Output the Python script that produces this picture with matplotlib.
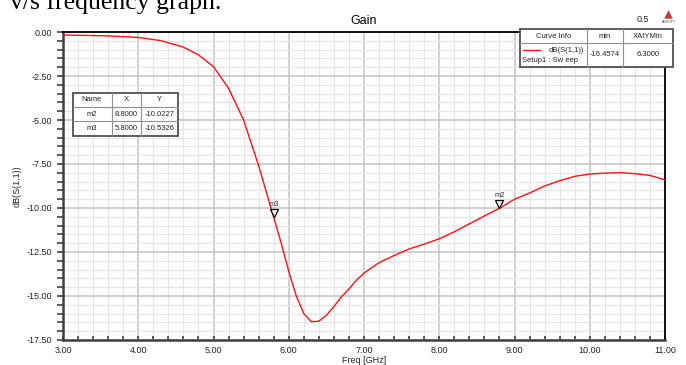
import matplotlib
matplotlib.use("Agg")
import matplotlib.pyplot as plt
from matplotlib.lines import Line2D
from matplotlib.patches import Rectangle
from matplotlib.ticker import MultipleLocator, FormatStrFormatter
import matplotlib.transforms as mtransforms

plt.rcParams["font.family"] = ["Liberation Sans", "DejaVu Sans"]

# S11 sweep
FREQ = [3.0, 3.6, 4.0, 4.3, 4.6, 4.8, 5.0, 5.2, 5.4, 5.6, 5.8, 5.9, 6.0, 6.1,
        6.2, 6.3, 6.4, 6.5, 6.6, 6.7, 6.8, 6.9, 7.0, 7.2, 7.4, 7.6, 7.8, 8.0,
        8.2, 8.4, 8.6, 8.8, 9.0, 9.2, 9.4, 9.6, 9.8, 10.0, 10.2, 10.4, 10.6,
        10.8, 11.0]
S11_DB = [-0.17, -0.22, -0.31, -0.49, -0.86, -1.30, -1.97, -3.20, -5.00, -7.60,
          -10.53, -12.00, -13.60, -15.00, -16.00, -16.46, -16.43, -16.10,
          -15.60, -15.05, -14.60, -14.10, -13.70, -13.10, -12.70, -12.33,
          -12.05, -11.75, -11.35, -10.90, -10.45, -10.02, -9.50, -9.15, -8.75,
          -8.45, -8.20, -8.07, -8.02, -7.99, -8.05, -8.15, -8.40]

MARKER_NAMES = ["m2", "m3"]
MARKER_X = [8.8, 5.8]
MARKER_Y = [-10.0227, -10.5326]

CURVE_NAME = "dB(S(1,1))"
CURVE_SETUP = "Setup1 : Sw eep"
CURVE_MIN = -16.4574
CURVE_XATYMIN = 6.3

W, H = 686, 365
fig = plt.figure(figsize=(W / 100, H / 100), dpi=100)


def fx(x):
    return x / W


def fy(y):
    return 1 - y / H


ax = fig.add_axes([fx(63), fy(340), fx(665) - fx(63), fy(32) - fy(340)])
ax.plot(FREQ, S11_DB, color="#ff1010", lw=1.0, zorder=3)

ax.set_xlim(3, 11)
ax.set_ylim(-17.5, 0)
ax.xaxis.set_major_locator(MultipleLocator(1))
ax.xaxis.set_minor_locator(MultipleLocator(0.2))
ax.yaxis.set_major_locator(MultipleLocator(2.5))
ax.yaxis.set_minor_locator(MultipleLocator(0.5))
ax.xaxis.set_major_formatter(FormatStrFormatter("%.2f"))
ax.yaxis.set_major_formatter(FormatStrFormatter("%.2f"))
ax.grid(True, which="major", color="#c4c4c4", lw=1.1, zorder=1)
ax.grid(True, which="minor", color="#e6e6e6", lw=0.9, zorder=0)
ax.set_axisbelow(True)

ax.tick_params(axis="y", which="both", direction="out", length=4, width=1.2,
               color="#404040", labelsize=6.5, pad=3.5, labelcolor="#222222")
ax.tick_params(axis="x", which="both", direction="in", length=3, width=1.2,
               color="#404040", labelsize=6.5, pad=4, labelcolor="#222222")
for side in ("left", "bottom"):
    ax.spines[side].set_color("#404040")
    ax.spines[side].set_linewidth(1.8)
for side in ("top", "right"):
    ax.spines[side].set_color("black")
    ax.spines[side].set_linewidth(1.3)

ax.set_xlabel("Freq [GHz]", fontsize=6.5, labelpad=1, color="#222222")
ax.set_ylabel("dB(S(1,1))", fontsize=6.5, labelpad=4, color="#222222")
ax.set_title("Gain", fontsize=9, pad=6)

# markers: open triangles sitting on the curve
up = mtransforms.offset_copy(ax.transData, fig=fig, x=0, y=4, units="dots")
for name, mx, my in zip(MARKER_NAMES, MARKER_X, MARKER_Y):
    ax.plot([mx], [my], marker="v", ms=6, mfc="white", mec="black", mew=0.9,
            transform=up, zorder=4)
    ax.annotate(name, (mx, my), xytext=(0, 13), textcoords="offset pixels",
                ha="center", va="center", fontsize=5.5, color="#333333")


def grid_table(xs, ys, cells):
    fig.add_artist(Rectangle((fx(xs[0]), fy(ys[-1])), fx(xs[-1]) - fx(xs[0]),
                             fy(ys[0]) - fy(ys[-1]), transform=fig.transFigure,
                             facecolor="white", edgecolor="#505050", lw=1.3,
                             zorder=5))
    for x in xs[1:-1]:
        fig.add_artist(Line2D([fx(x), fx(x)], [fy(ys[0]), fy(ys[-1])],
                              color="#909090", lw=0.8, zorder=6))
    for y in ys[1:-1]:
        fig.add_artist(Line2D([fx(xs[0]), fx(xs[-1])], [fy(y), fy(y)],
                              color="#909090", lw=0.8, zorder=6))
    for r, row in enumerate(cells):
        for c, txt in enumerate(row):
            if txt:
                fig.text(fx((xs[c] + xs[c + 1]) / 2), fy((ys[r] + ys[r + 1]) / 2),
                         txt, ha="center", va="center", fontsize=5.5,
                         color="#222222", zorder=7)


grid_table([72.5, 111.5, 141, 178], [92.5, 107, 121, 135.5],
           [["Name", "X", "Y"]] +
           [[n, f"{x:.4f}", f"{y:.4f}"]
            for n, x, y in zip(MARKER_NAMES, MARKER_X, MARKER_Y)])

grid_table([520, 587, 623, 673], [29, 43, 67],
           [["Curve Info", "min", "XAtYMin"],
            ["", f"{CURVE_MIN:.4f}", f"{CURVE_XATYMIN:.4f}"]])
fig.add_artist(Line2D([fx(523), fx(540)], [fy(50), fy(50)], color="#ff1010",
                      lw=1.0, zorder=7))
fig.text(fx(584), fy(50), CURVE_NAME, ha="right", va="center", fontsize=5.5,
         color="#222222", zorder=7)
fig.text(fx(522), fy(61), CURVE_SETUP, ha="left", va="center", fontsize=5.5,
         color="#222222", zorder=7)

# header extras
fig.text(fx(643), fy(19), "0.5", ha="center", va="center", fontsize=6.5,
         color="#222222")
fig.add_artist(Line2D([fx(668)], [fy(14)], marker="^", ms=6, color="#d03030",
                      mec="#808080", mew=0.4))
fig.text(fx(669), fy(22), "ANSOFT", ha="center", va="center", fontsize=2.5,
         color="#555555")

# caption from the surrounding document, clipped at the top as in the source
fig.text(fx(10), fy(8.5), "v/s frequency graph.", ha="left", va="baseline",
         fontsize=18.5, family=["Liberation Serif", "DejaVu Serif"],
         color="black")

fig.savefig("out.png", dpi=100)
